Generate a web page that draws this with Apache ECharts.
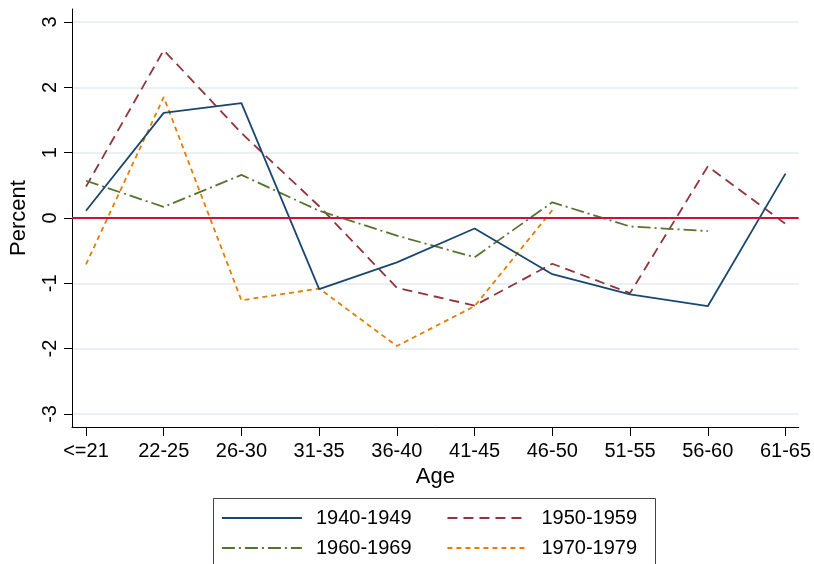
<!DOCTYPE html>
<html>
<head>
<meta charset="utf-8">
<script src="https://cdn.jsdelivr.net/npm/echarts@6/dist/echarts.min.js"></script>
<style>html,body{margin:0;padding:0;background:#fff}#c{width:814px;height:564px}</style>
</head>
<body>
<div id="c"></div>
<script>
const categories = ['<=21','22-25','26-30','31-35','36-40','41-45','46-50','51-55','56-60','61-65'];
const yTicks = [-3,-2,-1,0,1,2,3];
const s1940 = [0.11, 1.61, 1.76, -1.09, -0.68, -0.16, -0.86, -1.17, -1.35, 0.68];
const s1950 = [0.48, 2.57, 1.30, 0.18, -1.07, -1.34, -0.70, -1.15, 0.79, -0.09];
const s1960 = [0.57, 0.17, 0.66, 0.11, -0.27, -0.60, 0.24, -0.13, -0.20];
const s1970 = [-0.71, 1.85, -1.26, -1.08, -1.96, -1.35, 0.12];
const seriesNames = ['1940-1949','1950-1959','1960-1969','1970-1979'];

const FONT = 'Liberation Sans, Arial, sans-serif';
const toPts = arr => arr.map((v, i) => [i, v]);
const xIdx = categories.map((c, i) => i);

const chart = echarts.init(document.getElementById('c'), null, {renderer: 'canvas'});
const legendText = {color: '#000', fontSize: 20, fontFamily: FONT, lineHeight: 20, padding: [0, 0, 0, 9]};
const legendCommon = {left: 221, padding: 0, itemWidth: 80, itemHeight: 14, itemGap: 35,
  textStyle: legendText, itemStyle: {opacity: 0, borderWidth: 0}, lineStyle: {width: 1.8}};
chart.setOption({
  animation: false,
  backgroundColor: '#fff',
  grid: {left: 68, right: 15, top: 9, bottom: 137, containLabel: false},
  xAxis: {
    type: 'value', min: -0.18, max: 9.17,
    name: 'Age', nameLocation: 'middle', nameGap: 38,
    nameTextStyle: {color: '#000', fontSize: 22, fontFamily: FONT},
    axisLine: {show: true, onZero: false, lineStyle: {color: '#000', width: 1}},
    axisTick: {show: true, length: 9, customValues: xIdx, lineStyle: {color: '#000'}},
    axisLabel: {customValues: xIdx, margin: 14, color: '#000', fontSize: 20, fontFamily: FONT,
      formatter: v => categories[Math.round(v)]},
    splitLine: {show: false}
  },
  yAxis: {
    type: 'value', min: -3.2, max: 3.2,
    name: 'Percent', nameLocation: 'middle', nameGap: 42, nameRotate: 90,
    nameTextStyle: {color: '#000', fontSize: 22, fontFamily: FONT},
    axisLine: {show: true, onZero: false, lineStyle: {color: '#000', width: 1}},
    axisTick: {show: true, length: 8, customValues: yTicks, lineStyle: {color: '#000'}},
    axisLabel: {customValues: yTicks, rotate: 90, margin: 12, color: '#000', fontSize: 20, fontFamily: FONT},
    splitLine: {show: true, lineStyle: {color: '#e3ecf0', width: 1.5}}
  },
  legend: [
    Object.assign({data: [seriesNames[0], seriesNames[1]], top: 508}, legendCommon),
    Object.assign({data: [seriesNames[2], seriesNames[3]], top: 538}, legendCommon)
  ],
  graphic: [{type: 'rect', shape: {x: 213.5, y: 498.5, width: 442, height: 90},
    style: {fill: 'none', stroke: '#444', lineWidth: 1}, silent: true}],
  series: [
    {name: seriesNames[0], type: 'line', data: toPts(s1940), symbol: 'none', color: '#1a476f',
     lineStyle: {color: '#1a476f', width: 1.8, type: 'solid'}, z: 4},
    {name: seriesNames[1], type: 'line', data: toPts(s1950), symbol: 'none', color: '#90353b',
     lineStyle: {color: '#90353b', width: 1.8, type: [10, 6]}, z: 3},
    {name: seriesNames[2], type: 'line', data: toPts(s1960), symbol: 'none', color: '#55752f',
     lineStyle: {color: '#55752f', width: 1.8, type: [13, 4, 2, 4]}, z: 3},
    {name: seriesNames[3], type: 'line', data: toPts(s1970), symbol: 'none', color: '#e37e00',
     lineStyle: {color: '#e37e00', width: 1.8, type: [5, 4]}, z: 3,
     markLine: {silent: true, symbol: 'none', label: {show: false},
       lineStyle: {color: '#c8143c', width: 1.8, type: 'solid'}, data: [{yAxis: 0}]}}
  ]
});
</script>
</body>
</html>
